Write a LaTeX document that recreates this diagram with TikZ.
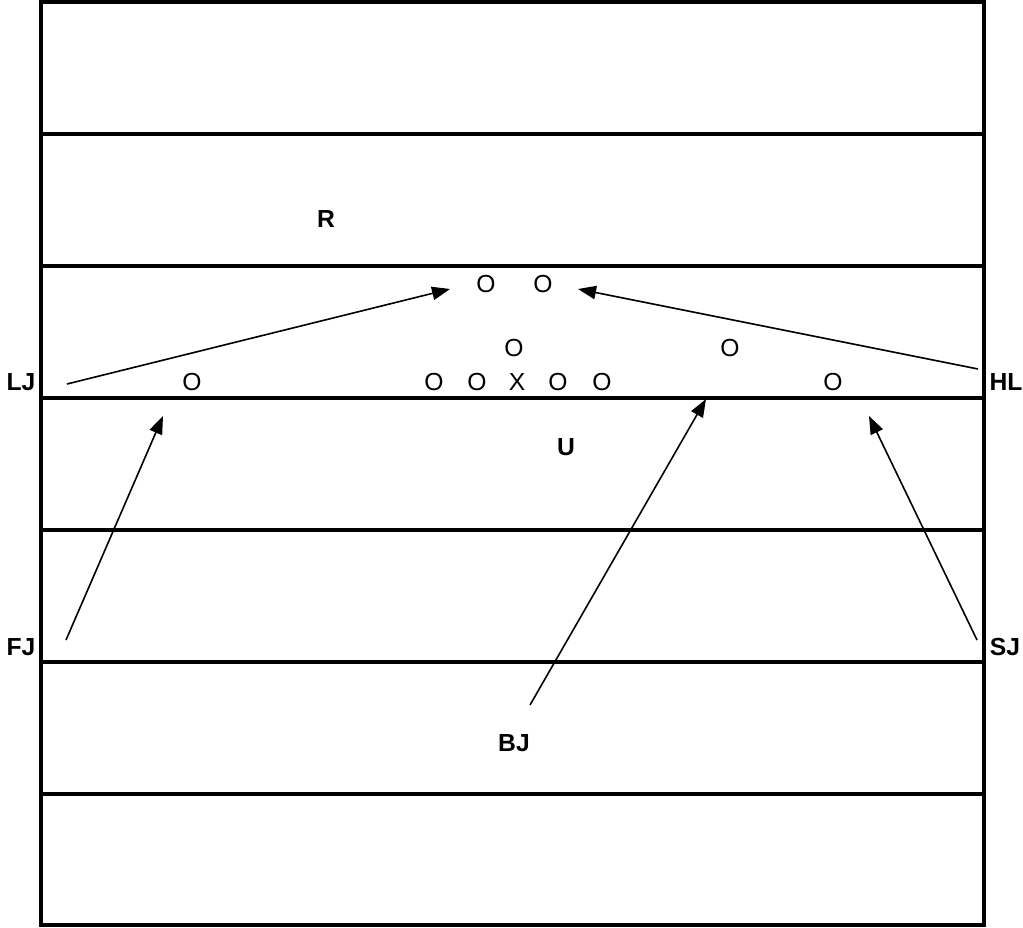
\documentclass[tikz,border=0pt]{standalone}
\usepackage{fontspec}
\setmainfont{Liberation Sans}
\usetikzlibrary{arrows.meta}
\begin{document}
\begin{tikzpicture}[x=0.75pt,y=-0.75pt,
  field/.style={line width=2.3pt},
  player/.style={font=\fontsize{18.5}{18.5}\selectfont, inner sep=0pt},
  lbl/.style={font=\fontsize{18.5}{18.5}\selectfont\bfseries, inner sep=0pt},
  arr/.style={line width=1.2pt, -{Triangle[length=13.5pt,width=10pt]}}]
\useasboundingbox (0,0) rectangle (1023,927);
% field
\draw[field] (41,2) rectangle (984,925);
\foreach \yy in {134,266,398,530,662,794}
  \draw[field] (41,\yy) -- (984,\yy);
% players
\node[player] (o1) at (486,284) {O};
\node[player] (o2) at (543,284) {O};
\node[player] (o3) at (514,348) {O};
\node[player] (o4) at (730,348) {O};
\node[player] (o5) at (192,382) {O};
\node[player] (o6) at (434,382) {O};
\node[player] (o7) at (477,382) {O};
\node[player] (x1) at (517,382) {X};
\node[player] (o8) at (558,382) {O};
\node[player] (o9) at (602,382) {O};
\node[player] (o10) at (833,382) {O};
% labels
\node[lbl] (R) at (326,219) {R};
\node[lbl] (U) at (566,447) {U};
\node[lbl] (LJ) at (21,382) {LJ};
\node[lbl] (HL) at (1006,382) {HL};
\node[lbl] (FJ) at (21,647) {FJ};
\node[lbl] (SJ) at (1005,647) {SJ};
\node[lbl] (BJ) at (514,743) {BJ};
% arrow endpoints
\coordinate (lja) at (67,384);
\coordinate (ljb) at (450,289);
\coordinate (hla) at (978,369);
\coordinate (hlb) at (578,289);
\coordinate (fja) at (66,640);
\coordinate (fjb) at (163,416);
\coordinate (sja) at (977,640);
\coordinate (sjb) at (869,416);
\coordinate (bja) at (530,705);
\coordinate (bjb) at (706,399);
\draw[arr] (lja) -- (ljb);
\draw[arr] (hla) -- (hlb);
\draw[arr] (fja) -- (fjb);
\draw[arr] (sja) -- (sjb);
\draw[arr] (bja) -- (bjb);
\end{tikzpicture}
\end{document}
